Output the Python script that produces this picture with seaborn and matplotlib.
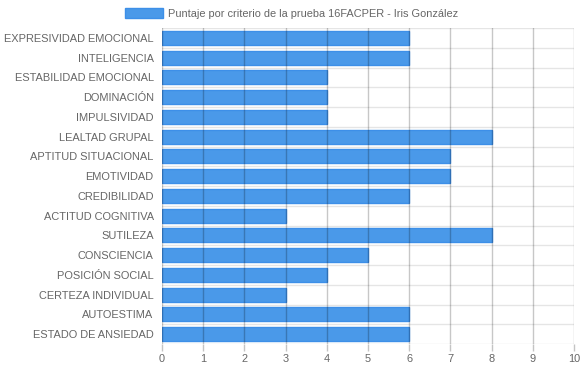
import pandas as pd
import seaborn as sns
import matplotlib
matplotlib.use("Agg")
import matplotlib.pyplot as plt
import numpy as np

criterios = ["EXPRESIVIDAD EMOCIONAL", "INTELIGENCIA", "ESTABILIDAD EMOCIONAL",
             "DOMINACIÓN", "IMPULSIVIDAD", "LEALTAD GRUPAL", "APTITUD SITUACIONAL",
             "EMOTIVIDAD", "CREDIBILIDAD", "ACTITUD COGNITIVA", "SUTILEZA",
             "CONSCIENCIA", "POSICIÓN SOCIAL", "CERTEZA INDIVIDUAL", "AUTOESTIMA",
             "ESTADO DE ANSIEDAD"]
puntajes = [6, 6, 4, 4, 4, 8, 7, 7, 6, 3, 8, 5, 4, 3, 6, 6]
serie = "Puntaje por criterio de la prueba 16FACPER - Iris González"
x_ticks = list(range(0, 11))

df = pd.DataFrame({"criterio": criterios, "puntaje": puntajes})

sns.set_style("white")
plt.rcParams["font.family"] = ["Liberation Sans", "DejaVu Sans"]
fs = 7.9

fig = plt.figure(figsize=(5.83, 3.68), dpi=100)
ax = fig.add_axes([162 / 583, 1 - 344 / 368, 412 / 583, 316 / 368])

sns.barplot(data=df, x="puntaje", y="criterio", orient="h", ax=ax,
            color="#4a99e9", edgecolor="#3d8fe8", linewidth=1,
            width=0.72, saturation=1, label=serie, zorder=2)

ax.set_xlim(0, 10)
ax.set_ylim(len(criterios) - 0.5, -0.5)
ax.set_xticks(x_ticks)
ax.set_xlabel("")
ax.set_ylabel("")

# lineas verticales (encima de las barras, semitransparentes)
for v in x_ticks:
    ax.axvline(v, color="black", alpha=0.22, lw=1, zorder=4)
# lineas horizontales entre categorias
for b in np.arange(-0.5, len(criterios), 1.0):
    ax.axhline(b, color="black", alpha=0.1, lw=1, zorder=1)

ax.set_yticks(np.arange(-0.5, len(criterios), 1.0), minor=True)
ax.tick_params(axis="y", which="minor", length=10, color="#e6e6e6", width=1)
ax.tick_params(axis="y", which="major", length=0, pad=6, labelsize=fs, labelcolor="#666666")
ax.tick_params(axis="x", length=5, color="#c4c4c4", width=1, pad=2,
               labelsize=fs, labelcolor="#666666", bottom=True)
for s in ax.spines.values():
    s.set_visible(False)

if ax.get_legend():
    ax.get_legend().remove()
h, l = ax.get_legend_handles_labels()
fig.legend(h[:1], l[:1], loc="upper center", bbox_to_anchor=(0.5, 1.0),
           frameon=False, fontsize=fs, labelcolor="#666666",
           handlelength=3.4, handleheight=1.1, handletextpad=0.45,
           borderaxespad=0.3)

fig.savefig("out.png", dpi=100)
